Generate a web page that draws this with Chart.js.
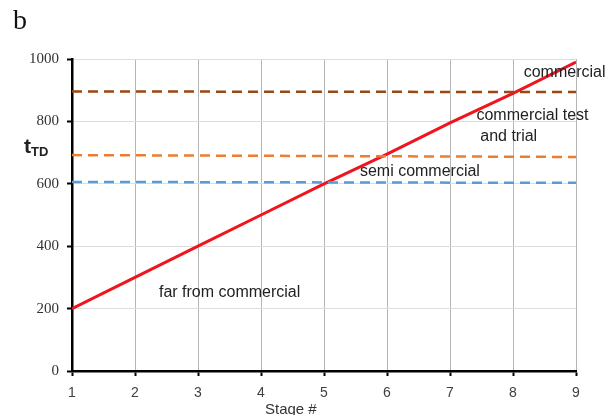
<!DOCTYPE html>
<html>
<head>
<meta charset="utf-8">
<script src="https://cdn.jsdelivr.net/npm/chart.js@4.4.0/dist/chart.umd.min.js"></script>
<style>
  html, body { margin: 0; padding: 0; background: #fff; }
  #wrap { position: relative; width: 616px; height: 415px; overflow: hidden; }
  #panel { position: absolute; left: 13px; top: 4px; font: 28px "Liberation Serif", serif; color: #111; }
  #ytitle { position: absolute; left: 24px; top: 134px; font: bold 21px "Liberation Sans", sans-serif; color: #222; }
  #ytitle sub { font-size: 13px; font-weight: bold; vertical-align: -3px; }
  #xtitle { position: absolute; left: 265px; top: 400px; font: 15px "Liberation Sans", sans-serif; color: #333; }
</style>
</head>
<body>
<div id="wrap">
  <canvas id="myChart" width="616" height="415"></canvas>
  <div id="panel">b</div>
  <div id="ytitle">t<sub>TD</sub></div>
  <div id="xtitle">Stage #</div>
</div>
<script>
'use strict';

let stages = [1, 2, 3, 4, 5, 6, 7, 8, 9];
let yTicks = [0, 200, 400, 600, 800, 1000];
let tdLine = [200, 300, 400, 500, 600, 695, 795, 890, 990];
let commercialLevel = [896, 894];
let testTrialLevel = [692, 686];
let semiLevel = [606, 603];
let regionNames = ['commercial', 'commercial test', 'and trial', 'semi commercial', 'far from commercial'];

function toPoints(values) {
    if (values.length === 2) {
        return [{ x: stages[0], y: values[0] }, { x: stages[stages.length - 1], y: values[1] }];
    }
    return values.map(function (v, i) { return { x: stages[i], y: v }; });
}

// region labels, placed in data units
let labelSpots = [
    { x: 8.17, y: 955 },
    { x: 7.42, y: 820 },
    { x: 7.48, y: 752 },
    { x: 5.57, y: 638 },
    { x: 2.38, y: 250 }
];

let regionLabels = {
    id: 'regionLabels',
    afterDatasetsDraw: function (chart) {
        let ctx = chart.ctx;
        let xs = chart.scales.x;
        let ys = chart.scales.y;
        ctx.save();
        ctx.font = '16px "Liberation Sans", sans-serif';
        ctx.fillStyle = '#222';
        ctx.textBaseline = 'middle';
        ctx.textAlign = 'left';
        for (let i = 0; i < regionNames.length; i++) {
            ctx.fillText(regionNames[i], xs.getPixelForValue(labelSpots[i].x), ys.getPixelForValue(labelSpots[i].y));
        }
        ctx.restore();
    }
};

let ctx = document.getElementById('myChart').getContext('2d');
let myChart = new Chart(ctx, {
    type: 'scatter',
    data: {
        datasets: [{
            data: toPoints(commercialLevel),
            showLine: true,
            borderColor: '#9A4616',
            borderWidth: 2.5,
            borderDash: [10, 6],
            pointRadius: 0
        },
        {
            data: toPoints(testTrialLevel),
            showLine: true,
            borderColor: '#ED7D31',
            borderWidth: 2.5,
            borderDash: [10, 6],
            pointRadius: 0
        },
        {
            data: toPoints(semiLevel),
            showLine: true,
            borderColor: '#5B9BD5',
            borderWidth: 2.5,
            borderDash: [10, 6],
            pointRadius: 0
        },
        {
            data: toPoints(tdLine),
            showLine: true,
            borderColor: '#F0141E',
            borderWidth: 3,
            pointRadius: 0
        }]
    },
    options: {
        responsive: false,
        animation: false,
        layout: { padding: { left: 0, right: 40, top: 59, bottom: 0 } },
        plugins: { legend: { display: false }, tooltip: { enabled: false } },
        scales: {
            x: {
                type: 'linear',
                min: 1,
                max: 9,
                afterBuildTicks: function (axis) { axis.ticks = stages.map(function (v) { return { value: v }; }); },
                afterFit: function (axis) { axis.height = 44; },
                grid: { color: '#B5B5B5', tickColor: '#000', tickLength: 5, tickWidth: 2 },
                border: { color: '#000', width: 2.5 },
                ticks: { color: '#404040', font: { family: '"Liberation Sans", sans-serif', size: 14 }, padding: 9 }
            },
            y: {
                min: 0,
                max: 1000,
                afterBuildTicks: function (axis) { axis.ticks = yTicks.map(function (v) { return { value: v }; }); },
                afterFit: function (axis) { axis.width = 72; },
                grid: { color: '#DDDDDD', tickColor: '#000', tickLength: 5, tickWidth: 2 },
                border: { color: '#000', width: 2.5 },
                ticks: {
                    color: '#333',
                    font: { family: '"Liberation Serif", serif', size: 15 },
                    padding: 8,
                    callback: function (v) { return String(v); }
                }
            }
        }
    },
    plugins: [regionLabels]
});
</script>
</body>
</html>
